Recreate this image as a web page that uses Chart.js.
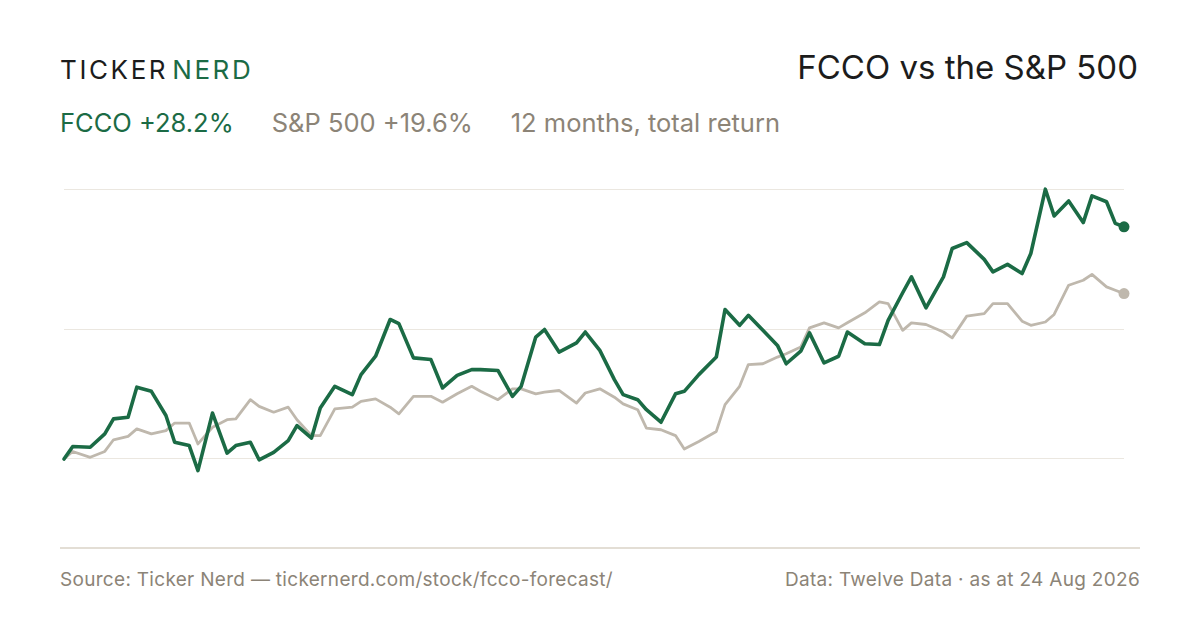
<!DOCTYPE html>
<html>
<head>
<meta charset="utf-8">
<script src="https://cdn.jsdelivr.net/npm/chart.js@4.4.1/dist/chart.umd.min.js"></script>
<style>
  html, body { margin: 0; padding: 0; background: #fff; }
  body { width: 1200px; height: 630px; position: relative; overflow: hidden; font-family: Inter, "Noto Sans", sans-serif; }
  .abs { position: absolute; white-space: nowrap; line-height: 1; }
  #logo { left: 60px; top: 57px; font-size: 26px; letter-spacing: 2.6px; color: #1c1c1c; }
  #logo span { color: #1b6b45; margin-left: 4px; }
  #title { right: 62px; top: 51px; font-size: 33px; color: #1c1c1c; }
  #sub { left: 60px; top: 110px; font-size: 25.5px; color: #8c8477; }
  #sub .g { color: #1b6b45; }
  #rule { left: 60px; top: 547px; width: 1080px; height: 2px; background: #e3ded5; }
  #src { left: 60px; top: 570px; font-size: 19px; letter-spacing: 0.3px; color: #8c8477; }
  #data { right: 60px; top: 570px; font-size: 19px; letter-spacing: 0.3px; color: #8c8477; }
  #wrap { position: absolute; left: 0; top: 150px; width: 1200px; height: 400px; }
</style>
</head>
<body>
<div id="logo" class="abs">TICKER<span>NERD</span></div>
<div id="title" class="abs">FCCO vs the S&amp;P 500</div>
<div id="sub" class="abs"><span class="g">FCCO +28.2%</span><span style="margin-left:38px">S&amp;P 500 +19.6%</span><span style="margin-left:38px">12 months, total return</span></div>
<div id="wrap"><canvas id="chart" width="1200" height="400"></canvas></div>
<div id="rule" class="abs"></div>
<div id="src" class="abs">Source: Ticker Nerd — tickernerd.com/stock/fcco-forecast/</div>
<div id="data" class="abs">Data: Twelve Data · as at 24 Aug 2026</div>
<script>
// sample dates (every 3rd trading day, plus the last one)
const dates = [
  '2025-08-25','2025-08-28','2025-09-03','2025-09-08','2025-09-11','2025-09-16','2025-09-19','2025-09-24','2025-09-29','2025-10-02',
  '2025-10-07','2025-10-10','2025-10-15','2025-10-20','2025-10-23','2025-10-28','2025-10-31','2025-11-05','2025-11-10','2025-11-13',
  '2025-11-18','2025-11-21','2025-11-26','2025-12-02','2025-12-05','2025-12-10','2025-12-15','2025-12-18','2025-12-23','2025-12-29',
  '2026-01-02','2026-01-07','2026-01-12','2026-01-15','2026-01-21','2026-01-26','2026-01-29','2026-02-03','2026-02-06','2026-02-11',
  '2026-02-17','2026-02-20','2026-02-25','2026-03-02','2026-03-05','2026-03-10','2026-03-13','2026-03-18','2026-03-23','2026-03-26',
  '2026-03-31','2026-04-06','2026-04-09','2026-04-14','2026-04-17','2026-04-22','2026-04-27','2026-04-30','2026-05-05','2026-05-08',
  '2026-05-13','2026-05-18','2026-05-21','2026-05-27','2026-06-01','2026-06-04','2026-06-09','2026-06-12','2026-06-17','2026-06-23',
  '2026-06-26','2026-07-01','2026-07-07','2026-07-10','2026-07-15','2026-07-20','2026-07-23','2026-07-28','2026-07-31','2026-08-05',
  '2026-08-10','2026-08-13','2026-08-18','2026-08-21','2026-08-24'
];

// cumulative return, %
const fcco = [
  0, 1.5, 1.4, 3.0, 4.8, 5.0, 8.6, 8.1, 5.2, 2.0,
  1.6, -1.4, 5.5, 0.7, 1.6, 2.0, -0.1, 0.8, 2.2, 4.0,
  2.5, 6.1, 8.7, 7.7, 10.1, 12.3, 16.7, 16.2, 12.1, 11.9,
  8.5, 10.0, 10.7, 10.7, 10.6, 7.5, 8.7, 14.6, 15.5, 12.8,
  13.9, 15.2, 13.0, 9.5, 7.7, 7.1, 5.9, 4.4, 7.8, 8.1,
  10.1, 12.2, 17.9, 16.0, 17.2, 15.4, 13.6, 11.4, 12.9, 15.1,
  11.5, 12.3, 15.2, 13.8, 13.7, 16.6, 19.9, 21.8, 18.1, 21.8,
  25.2, 25.9, 23.9, 22.4, 23.3, 22.2, 24.6, 32.3, 29.1, 30.9,
  28.3, 31.5, 30.8, 28.2, 27.8
];
const spx = [
  0, 0.9, 0.2, 0.9, 2.3, 2.7, 3.6, 3.0, 3.4, 4.3,
  4.3, 1.8, 3.8, 4.7, 4.8, 7.1, 6.3, 5.6, 6.2, 4.7,
  2.8, 2.8, 6.0, 6.2, 6.9, 7.2, 6.2, 5.4, 7.5, 7.5,
  6.8, 7.8, 8.7, 8.1, 7.1, 8.4, 8.4, 7.8, 8.0, 8.2,
  6.7, 7.9, 8.4, 7.4, 6.6, 5.9, 3.7, 3.5, 2.8, 1.2,
  2.1, 3.3, 6.5, 8.7, 11.3, 11.4, 12.2, 12.6, 13.4, 15.7,
  16.3, 15.7, 16.3, 17.5, 18.8, 18.6, 15.4, 16.3, 16.1, 15.2,
  14.5, 17.1, 17.4, 18.6, 18.6, 16.5, 16.0, 16.4, 17.3, 20.8,
  21.4, 22.1, 20.6, 20.2, 19.8
];
const gridValues = [0, 15.5, 32.3];

const DAY = 86400000;
const t0 = Date.parse(dates[0]);
const dayNum = dates.map(d => Math.round((Date.parse(d) - t0) / DAY));
const toPoints = arr => arr.map((v, i) => ({ x: dayNum[i], y: v }));
const lastOnly = r => ctx => (ctx.dataIndex === dates.length - 1 ? r : 0);

new Chart(document.getElementById('chart'), {
  type: 'line',
  data: {
    datasets: [{
      label: 'FCCO',
      data: toPoints(fcco),
      borderColor: '#1b6b45',
      backgroundColor: '#1b6b45',
      borderWidth: 3.6,
      pointRadius: lastOnly(5.5),
      pointBorderWidth: 0,
      borderJoinStyle: 'round',
      borderCapStyle: 'round',
      tension: 0,
      clip: false
    }, {
      label: 'S&P 500',
      data: toPoints(spx),
      borderColor: '#bfb8ad',
      backgroundColor: '#bfb8ad',
      borderWidth: 2.8,
      pointRadius: lastOnly(5.5),
      pointBorderWidth: 0,
      borderJoinStyle: 'round',
      borderCapStyle: 'round',
      tension: 0,
      clip: false
    }]
  },
  options: {
    responsive: false,
    animation: false,
    layout: { padding: { left: 64, right: 76, top: 30, bottom: 10 } },
    scales: {
      x: {
        type: 'linear',
        display: false,
        min: dayNum[0],
        max: dayNum[dayNum.length - 1]
      },
      y: {
        min: -9.7,
        max: 33.4,
        afterBuildTicks: scale => { scale.ticks = gridValues.map(v => ({ value: v })); },
        ticks: { display: false },
        border: { display: false },
        grid: { color: '#ebe7e0', lineWidth: 1, drawTicks: false }
      }
    },
    plugins: {
      legend: { display: false },
      tooltip: { enabled: false }
    }
  }
});
</script>
</body>
</html>
